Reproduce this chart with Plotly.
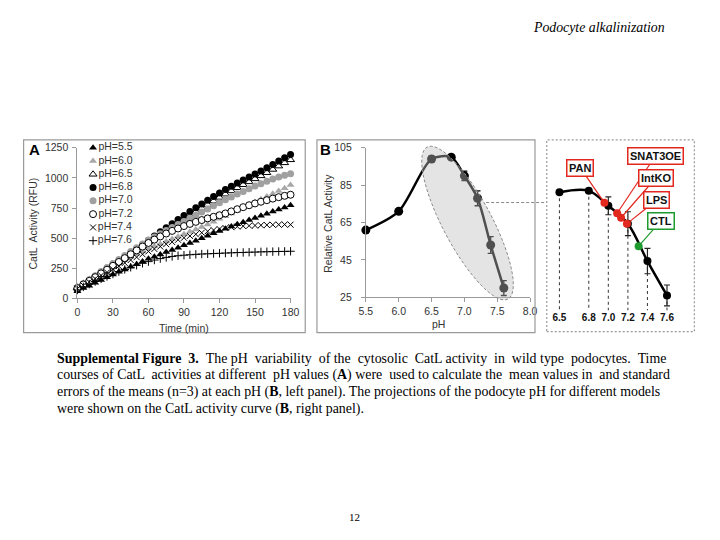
import math
import plotly.graph_objects as go

W, H = 720, 540
def px(x): return x / W
def py(y): return 1 - y / H

# ---------------- Data ----------------
time_min = list(range(0, 181, 5))
ph_5_5 = [60, 85, 105, 130, 152, 175, 198, 220, 240, 262, 283, 305, 328, 345, 365, 385, 402, 420, 440,
          460, 478, 500, 520, 540, 560, 578, 597, 615, 632, 650, 667, 685, 703, 720, 738, 755, 772]
ph_6_0 = [100, 130, 160, 190, 215, 245, 270, 295, 320, 345, 368, 390, 412, 432, 452, 472, 492, 512, 532,
          552, 572, 592, 614, 636, 660, 682, 705, 728, 752, 775, 798, 822, 845, 868, 892, 915, 940]
ph_6_5 = [90, 120, 150, 180, 210, 240, 270, 303, 336, 370, 403, 436, 468, 500, 532, 563, 595, 627, 658,
          688, 718, 748, 778, 808, 838, 865, 892, 918, 943, 967, 992, 1017, 1043, 1070, 1098, 1125, 1150]
ph_6_8 = [80, 110, 140, 172, 204, 238, 272, 306, 340, 375, 410, 446, 482, 518, 552, 587, 620, 654, 688,
          720, 752, 783, 814, 845, 875, 903, 930, 957, 983, 1008, 1032, 1058, 1085, 1112, 1140, 1168, 1195]
ph_7_0 = [90, 122, 155, 188, 222, 256, 290, 322, 355, 388, 420, 452, 482, 510, 537, 563, 588, 613, 638,
          664, 690, 716, 742, 768, 794, 818, 842, 866, 888, 910, 932, 952, 972, 990, 1008, 1022, 1035]
ph_7_2 = [85, 115, 145, 176, 207, 238, 270, 302, 334, 366, 398, 430, 460, 488, 514, 538, 560, 580, 600,
          618, 635, 650, 664, 677, 690, 705, 722, 740, 757, 773, 788, 802, 815, 828, 840, 851, 860]
ph_7_4 = [80, 108, 136, 163, 190, 216, 242, 268, 294, 318, 342, 366, 390, 410, 430, 450, 468, 486, 503,
          518, 532, 545, 557, 567, 576, 584, 591, 596, 600, 603, 605, 607, 609, 611, 612, 613, 612]
ph_7_6 = [70, 95, 118, 140, 162, 182, 202, 222, 240, 258, 275, 291, 305, 318, 330, 340, 348, 354, 358,
          362, 365, 368, 370, 372, 374, 376, 378, 380, 381, 383, 384, 386, 387, 388, 389, 390, 391]

series_names = ["pH=5.5", "pH=6.0", "pH=6.5", "pH=6.8", "pH=7.0", "pH=7.2", "pH=7.4", "pH=7.6"]
series_values = [ph_5_5, ph_6_0, ph_6_5, ph_6_8, ph_7_0, ph_7_2, ph_7_4, ph_7_6]

ph_values = [5.5, 6.0, 6.5, 6.8, 7.0, 7.2, 7.4, 7.6]
rel_activity = [61, 71, 99, 100, 90, 78, 53, 30]
rel_sem = [0.8, 1.0, 1.5, 1.0, 2.5, 4.0, 4.5, 4.0]

inset_ph = [6.5, 6.8, 7.0, 7.2, 7.4, 7.6]
inset_activity = [99, 100, 90, 78, 53, 30]
inset_sem = [0, 0, 6, 8, 8.5, 7]
inset_tick_labels = ["6.5", "6.8", "7.0", "7.2", "7.4", "7.6"]

model_names = ["PAN", "SNAT3OE", "IntKO", "LPS", "CTL"]
model_ph = [6.96, 7.09, 7.13, 7.19, 7.31]
model_activity = [92, 85, 82, 78, 63]

# ---------------- Styles ----------------
RED = "#e2281e"
GREEN = "#1f9a2f"
marker_styles = [
    dict(symbol="triangle-up", color="black", size=7, line=dict(width=0)),
    dict(symbol="triangle-up", color="#a8a8a8", size=7, line=dict(width=0)),
    dict(symbol="triangle-up", color="white", size=7, line=dict(width=1, color="black")),
    dict(symbol="circle", color="black", size=7, line=dict(width=0)),
    dict(symbol="circle", color="#a0a0a0", size=7, line=dict(width=0)),
    dict(symbol="circle", color="white", size=7, line=dict(width=1, color="black")),
    dict(symbol="x-thin-open", color="black", size=6, line=dict(width=1, color="black")),
    dict(symbol="cross-thin-open", color="black", size=6, line=dict(width=1, color="black")),
]
model_colors = [RED, RED, RED, RED, GREEN]

fig = go.Figure()

# Panel A time courses
for name, vals, ms in zip(series_names, series_values, marker_styles):
    fig.add_trace(go.Scatter(x=time_min, y=vals, mode="markers", name=name, marker=ms,
                             cliponaxis=False, xaxis="x", yaxis="y"))

# Panel A manual legend
for i, (name, ms) in enumerate(zip(series_names, marker_styles)):
    fig.add_trace(go.Scatter(x=[0.5], y=[i], mode="markers+text", text=[name],
                             textposition="middle right",
                             textfont=dict(size=10.5, color="#333333"),
                             marker=ms, cliponaxis=False, xaxis="x4", yaxis="y4"))

# Panel B left: relative activity
fig.add_trace(go.Scatter(x=ph_values, y=rel_activity, mode="lines+markers",
                         line=dict(color="black", width=2.5, shape="spline", smoothing=0.8),
                         marker=dict(color="black", size=9),
                         error_y=dict(type="data", array=rel_sem, color="black", thickness=1.3, width=3),
                         cliponaxis=False, xaxis="x2", yaxis="y2"))

# Panel B inset (right)
fig.add_trace(go.Scatter(x=inset_ph, y=inset_activity, mode="lines+markers",
                         line=dict(color="black", width=2.5, shape="spline", smoothing=1.0),
                         marker=dict(color="black", size=8),
                         error_y=dict(type="data", array=inset_sem, color="#222222", thickness=1.2, width=3),
                         cliponaxis=False, xaxis="x3", yaxis="y3"))
fig.add_trace(go.Scatter(x=model_ph, y=model_activity, mode="markers",
                         marker=dict(color=model_colors, size=8),
                         cliponaxis=False, xaxis="x3", yaxis="y3"))

shapes = []
# dashed drop lines in inset
for p, a in zip(inset_ph, inset_activity):
    shapes.append(dict(type="line", xref="x3", yref="y3", x0=p, x1=p, y0=a, y1=20,
                       line=dict(color="#444444", width=1.1, dash="3px,3px"), layer="below"))

# ellipse highlighting the alkaline part of the curve
cx, cy, ea, eb, phi = 471, 222, 88, 25, math.radians(62)
pts = []
for k in range(73):
    t = 2 * math.pi * k / 72
    xx = cx + ea * math.cos(t) * math.cos(phi) - eb * math.sin(t) * math.sin(phi)
    yy = cy + ea * math.cos(t) * math.sin(phi) + eb * math.sin(t) * math.cos(phi)
    pts.append((px(xx), py(yy)))
path = "M " + " L ".join(f"{x:.5f},{y:.5f}" for x, y in pts) + " Z"
shapes.append(dict(type="path", xref="paper", yref="paper", path=path,
                   fillcolor="rgba(190,190,190,0.42)", line=dict(color="#8a8a8a", width=1, dash="3px,2px"),
                   layer="above"))
# connector dashed line
shapes.append(dict(type="line", xref="paper", yref="paper", x0=px(490), x1=px(552), y0=py(201), y1=py(201),
                   line=dict(color="#888888", width=1, dash="3px,2px")))
# panel frames
shapes.append(dict(type="rect", xref="paper", yref="paper", x0=px(17), x1=px(305), y0=py(334), y1=py(137),
                   line=dict(color="#9a9a9a", width=1.2)))
shapes.append(dict(type="rect", xref="paper", yref="paper", x0=px(317), x1=px(540), y0=py(334), y1=py(137),
                   line=dict(color="#9a9a9a", width=1.2)))
shapes.append(dict(type="rect", xref="paper", yref="paper", x0=px(552), x1=px(703), y0=py(333), y1=py(137),
                   line=dict(color="#9a9a9a", width=1.2, dash="2px,2px")))

annotations = []
def ann(x, y, text, size=10.5, color="#333333", xanchor="center", yanchor="middle", angle=0,
        family="Liberation Sans"):
    annotations.append(dict(x=px(x), y=py(y), xref="paper", yref="paper", text=text, showarrow=False,
                            xanchor=xanchor, yanchor=yanchor, textangle=angle,
                            font=dict(size=size, color=color, family=family)))

ann(28, 147, "<b>A</b>", size=15, color="black")
ann(326, 147, "<b>B</b>", size=15, color="black")
ann(27, 222, "CatL  Activity (RFU)", angle=-90)
ann(181, 329, "Time (min)")
ann(328, 222, "Relative CatL Activity", angle=-90)
ann(441, 325, "pH")

# model labels with connectors
offsets = [(-24, -35), (38, -57), (35, -40), (30, -24), (22, -25)]
for name, p, a, c, (dx, dy) in zip(model_names, model_ph, model_activity, model_colors, offsets):
    annotations.append(dict(x=p, y=a, xref="x3", yref="y3", text=f"<b>{name}</b>", showarrow=True,
                            arrowhead=0, arrowwidth=1.2, arrowcolor=c, ax=dx, ay=dy, standoff=3,
                            bordercolor=c, borderwidth=1.5, borderpad=1.5, bgcolor="white",
                            font=dict(size=11, color="#111111", family="Liberation Sans")))

# page text
ann(675, 22, "<i>Podocyte alkalinization</i>", size=13.8, color="black", xanchor="right",
    family="Liberation Serif")

NB = "\u00a0"
def justify(line, extra):
    """Widen a few word gaps (non-breaking spaces) to mimic justified text."""
    words = line.split(" ")
    gaps = len(words) - 1
    if extra <= 0 or gaps <= 0:
        return line
    picks = {int(round((k + 0.5) * gaps / extra)) for k in range(extra)}
    out = words[0]
    for g in range(gaps):
        out += (" " + NB if g in picks else " ") + words[g + 1]
    return out

caption = [
    "<b>Supplemental Figure 3.</b> The pH variability of the cytosolic CatL activity in wild type podocytes. Time",
    "courses of CatL activities at different pH values (<b>A</b>) were used to calculate the mean values in and standard",
    "errors of the means (n=3) at each pH (<b>B</b>, left panel). The projections of the podocyte pH for different models",
    "were shown on the CatL activity curve (<b>B</b>, right panel).",
]
caption_extra = [10, 5, 0, 0]
for i, (line, ex) in enumerate(zip(caption, caption_extra)):
    ann(49.5, 360 + 17.3 * i, justify(line, ex), size=13.9, color="black", xanchor="left",
        family="Liberation Serif")
ann(355, 523, "12", size=11, color="black", family="Liberation Serif")

axis_common = dict(showgrid=False, zeroline=False, showline=True, linecolor="#9a9a9a", linewidth=1,
                   ticks="outside", ticklen=4, tickcolor="#9a9a9a",
                   tickfont=dict(size=10.5, color="#333333", family="Liberation Sans"))

fig.update_layout(
    width=W, height=H, margin=dict(l=0, r=0, t=0, b=0),
    paper_bgcolor="white", plot_bgcolor="rgba(0,0,0,0)", showlegend=False,
    font=dict(family="Liberation Sans"),
    xaxis=dict(domain=[px(72), px(290)], range=[0, 180], tickvals=[0, 30, 60, 90, 120, 150, 180],
               anchor="y", **axis_common),
    yaxis=dict(domain=[py(299), py(145)], range=[0, 1250], tickvals=[0, 250, 500, 750, 1000, 1250],
               anchor="x", ticklabelstandoff=2, **axis_common),
    xaxis2=dict(domain=[px(367), px(535)], range=[5.5, 8.0], tickvals=[5.5, 6.0, 6.5, 7.0, 7.5, 8.0],
                tickformat=".1f", anchor="y2", **axis_common),
    yaxis2=dict(domain=[py(298), py(145)], range=[25, 105], tickvals=[25, 45, 65, 85, 105],
                anchor="x2", ticklabelstandoff=7, **axis_common),
    xaxis3=dict(domain=[px(555), px(685)], range=[6.4, 7.7], anchor="y3", showgrid=False, zeroline=False,
                showline=False, ticks="", tickvals=inset_ph,
                ticktext=[f"<b>{t}</b>" for t in inset_tick_labels],
                tickfont=dict(size=10, color="#111111", family="Liberation Sans")),
    yaxis3=dict(domain=[py(311.3), py(181.4)], range=[20, 105], anchor="x3", visible=False),
    xaxis4=dict(domain=[px(84), px(92)], range=[0, 1], anchor="y4", visible=False),
    yaxis4=dict(domain=[py(246.8), py(138.2)], range=[7.5, -0.5], anchor="x4", visible=False),
    shapes=shapes, annotations=annotations,
)

fig.write_html("out.html", config={"displayModeBar": False},
               post_script="document.body.style.margin='0px';")
